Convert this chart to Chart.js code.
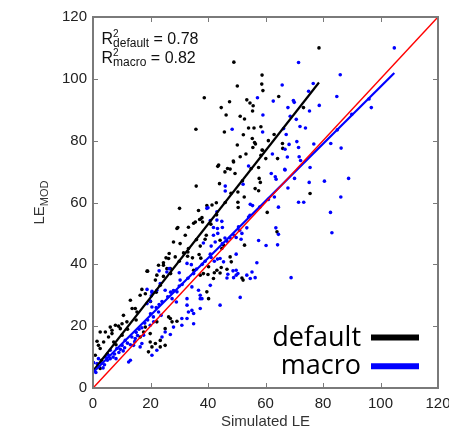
<!DOCTYPE html>
<html lang="en">
<head>
  <meta charset="UTF-8">
  <title>LE MOD vs Simulated LE</title>
  <script src="https://cdn.jsdelivr.net/npm/chart.js"></script>
  <style>
    html, body { margin: 0; padding: 0; background: #ffffff; }
    #wrap { width: 449px; height: 433px; }
  </style>
</head>
<body>
  <div id="wrap"><canvas id="scatterChart"></canvas></div>
  <script>
    // scatter values
    const defaultPts = [
      [78.6,110],[49,105.4],[58.8,101.2],[50.2,97.7],[58.7,98.3],[59.1,96.2],[38.7,93.9],[47.5,92.6],
      [53.5,93.2],[54.6,92.2],[55.7,91.3],[44.6,90.7],[55.5,89.6],[46.3,88.3],[51.2,87.9],[52.7,87],
      [35.8,83.7],[45.7,82.8],[54.1,84.1],[56,84.1],[58.4,84.5],[52.3,81.9],[55.4,80.7],[56.2,79.4],
      [56.5,78.9],[50.2,78.6],[55.6,77.8],[58.8,77],[53.2,75.7],[51.2,74.8],[48.8,73.4],[43.7,72.1],
      [47.7,70.8],[64.6,94.3],[73.2,90.7],[65.9,79.1],[66,77.5],[64.2,74.2],[59,76.9],[58.4,75.3],
      [60.1,74.2],[57.8,67.8],[58.2,66.5],[56.4,64.5],[57.6,63.8],[50.4,63.4],[52.6,61.8],[50.4,60.1],
      [50.5,58.4],[57.6,71.3],[52.7,46.2],[51.8,35.6],[52.2,34.9],[64,50.5],[60.6,56.8],[75.5,62.9],
      [45.9,69.9],[46.8,71],[49.4,69.4],[48.9,73.1],[43.4,71.7],[35.9,65.3],[44,66.1],[30.1,58.1],
      [36.7,57.4],[37.9,55.1],[39.6,59],[41.4,59.2],[42.9,59.9],[37.1,54.5],[38.1,53.7],[29.5,51.9],
      [33.2,52],[35,53.3],[39.4,49.4],[39,48.1],[37.3,45.9],[44.2,47.8],[45.4,46.2],[26.5,43.5],
      [31.5,43.7],[32.9,42.6],[36.9,43.2],[37.5,42],[34.6,42.1],[25.4,42.1],[28.6,42.4],[47.7,42.4],
      [48.1,40.8],[22.8,39.7],[24.5,40.5],[25.7,38.6],[19,37.8],[24.5,36.1],[40,36.7],[42.2,37.3],
      [44.2,37.2],[44.6,39],[46.6,38.4],[40.2,39.2],[2.5,18.1],[1.4,15.1],[1.9,13.8],[6,19.7],
      [6.6,18.7],[8.9,20],[10.1,20.8],[18.8,37.8],[29.2,51.6],[32.1,49.4],[30.3,46.7],[28,47.2],
      [33.2,45.1],[35.6,53.7],[37.3,54.6],[26.3,41.9],[26.9,38.6],[24.5,39.7],[22.2,36.5],[23.4,33.2],
      [37.3,36.5],[38.4,37],[35,38.1],[39.6,31.1],[41.9,35.4],[43.1,38.1],[40.2,28.9],[44.8,45.1],
      [21.7,34.9],[17,31.9],[18.2,30.5],[16.4,30],[13,28.4],[13.6,25.7],[14.7,25.7],[15.3,24.6],
      [26.3,23],[26.9,22.5],[27.5,21.4],[29.2,21.6],[22.2,21.4],[25.1,19.2],[19.9,17.6],[19.9,14.9],
      [21.7,14.4],[23.4,15.4],[19.3,11.7],[20.5,13.3],[23.4,13.3],[25.1,13.8],[5.4,16.5],[6.6,17.6],
      [7.2,14.9],[3.7,14.9],[9.5,19.2],[10.1,17.1],[7.8,20.3],[4.3,18.1],[11.8,21.4],[10.6,23.5],
      [2.5,12.8],[0.8,10.6],[2.5,6.3],[16.4,16.5],[17.6,18.1],[18.2,19.7],[3,9],[5,11],[8,14],
      [12,19],[15,22],[20,28],[22,31],[27,37],[30,41],[33,44],[36,48],[41,53],[43,56],[46,60],
      [48,63],[52,67],[55,71],[61,80],[63,82]
    ];
    const macroPts = [
      [104.8,110],[71.5,105.3],[86,101.3],[65.8,98],[76.6,98.5],[75,96],[62.7,92.8],[69.7,93],
      [70,92.4],[84.8,94.3],[67.8,90.7],[75.3,89.6],[78.7,91.4],[68.6,87.9],[70.7,86.9],[72,84.6],
      [73.9,84.1],[96.8,90.7],[66.3,83.9],[67.2,82],[70.9,79.7],[68.2,78.8],[71.5,77.8],[76.8,78.9],
      [82.7,79.1],[86.3,77.6],[66.8,77.2],[62.4,75.7],[67.6,74.7],[71.7,74.8],[72.2,73.6],[75.5,71.3],
      [66.7,70.7],[57.2,93.9],[59.1,88.3],[48.4,83.7],[59,82.8],[54.1,71.8],[62,69.4],[63.4,68.3],
      [63.7,67.5],[66.8,70.5],[70.1,67.8],[75.2,66.5],[80.5,66.9],[88.9,67.8],[52.2,65.9],[67.8,64.7],
      [63.1,61.8],[71.5,60.1],[73.3,60.1],[86.2,61.8],[54.7,59.4],[55.5,59],[64.5,58.5],[82.6,56.8],
      [54.6,55.9],[54.1,55.3],[53.5,51.8],[51.8,50],[63.6,51.8],[64.5,49.7],[83.1,50.2],[49.8,48.7],
      [51.5,48.1],[57.6,47.7],[60.2,46.1],[64.2,46.3],[49.8,43.3],[57,40.5],[55.3,37.5],[53.5,36.5],
      [56.4,35.7],[54.7,35.4],[49.8,38.1],[49.8,36.5],[68.9,35.7],[51.2,29.3],[46,65.3],[46,63.7],
      [40,58.3],[40.8,54.2],[43.1,54.3],[44.8,53.9],[41.9,51.9],[43.3,51.6],[45,51.9],[41.9,49.4],
      [43.4,50],[42.5,47.2],[38.4,46.9],[41.1,45.9],[50.6,52.1],[51,51],[40.8,43.3],[41.1,42.2],
      [42.2,41],[43.3,41.7],[45,46.7],[45.9,48.5],[46.6,47.5],[47.7,48.5],[49.1,49.4],[23,37.9],
      [26.5,38.6],[30,37.3],[32.7,40.3],[34.2,39.9],[46.9,36.8],[48.7,37.9],[50.4,37],[48.9,35.7],
      [46.6,35.6],[39.6,58.1],[43.1,57],[25.7,37.5],[23.4,33.8],[22.2,31.6],[20.5,30.9],[19.9,28.1],
      [30.3,34.9],[34.4,32.7],[29.2,31.1],[32.7,28.9],[30.9,22.5],[35,20.8],[33.2,24.6],[37.3,30],
      [37.9,28.9],[40.8,33.2],[44.2,26.8],[37.3,25.7],[44.2,41.9],[45.4,40.8],[18.8,31.9],[20.5,31.3],
      [20.3,29.8],[18.8,27.3],[20.5,26.2],[22.8,24.6],[23.7,23.5],[25.1,31.6],[27.5,28.9],[29,27.8],
      [32.7,26.8],[34.4,25.1],[35,24.1],[36.7,31.6],[37.3,28.9],[32.7,22.5],[30.9,20.3],[28,19.7],
      [24,16.5],[25.1,18.1],[26.9,17.3],[17,14.4],[16.4,13.3],[17.6,17.1],[20.5,10.6],[22.2,12.2],
      [12.4,8.4],[13,9],[1.9,9.5],[1.4,7.9],[0.2,8.2],[4.3,10],[5.4,10.6],[6,12.2],[8.3,12.8],
      [10.1,13.8],[11.2,15.4],[14.1,13.8],[14.7,16],[19.9,20.3],[21.1,21.4],[0.5,6],[1,5],[2,7],
      [3,8],[3.5,6.5],[4,7.5],[5,9],[6,9.5],[7,10],[7.5,11],[8,9.5],[9,11.5],[9.5,12.5],[10.5,12],
      [11,13],[12,14.5],[13,14],[13.5,16.5],[14.5,15],[15,18],[15.5,17],[16,19],[17,19.5],[18,21],
      [19,22],[20,24],[21,23],[22,26],[23,27],[24,28],[26,29.5],[27,31],[28,31.5],[30,33],[31,33.5],
      [33,35.5],[35,37],[36,38.5],[38,40],[39,41],[58,58.5],[61,61],[85,83.5],[90,88.5],[96,93.5]
    ];

    // fitted lines and 1:1 line, as end points
    const defaultFit = [[0, 5.5], [78.6, 98.8]];
    const macroFit = [[0, 5.0], [104.8, 101.9]];
    const oneToOne = [[0, 0], [120, 120]];

    const tickValues = [0, 20, 40, 60, 80, 100, 120];
    const r2Labels = [['default', '0.78'], ['macro', '0.82']];
    const legendNames = ['default', 'macro'];
    const legendColors = ['#000000', '#0000ff'];

    const toXY = arr => arr.map(p => ({ x: p[0], y: p[1] }));

    const fixArea = {
      y: function (scale) {
        scale.width = 93;
        scale.paddingTop = 0; scale.paddingBottom = 0;
        scale.paddingLeft = 0; scale.paddingRight = 0;
      },
      x: function (scale) {
        scale.height = 45;
        scale.paddingTop = 0; scale.paddingBottom = 0;
        scale.paddingLeft = 0; scale.paddingRight = 0;
      }
    };

    // frame, inner ticks, axis titles, R2 text and the legend
    const decorations = {
      id: 'decorations',
      afterDatasetsDraw(chart) {
        const ctx = chart.ctx;
        const a = chart.chartArea;
        const xs = chart.scales.x, ys = chart.scales.y;
        ctx.save();
        ctx.strokeStyle = '#7a7a7a';
        ctx.lineWidth = 2;
        ctx.strokeRect(a.left, a.top, a.right - a.left, a.bottom - a.top);
        ctx.lineWidth = 1;
        tickValues.forEach(v => {
          const px = Math.round(xs.getPixelForValue(v)) + 0.5;
          const py = Math.round(ys.getPixelForValue(v)) + 0.5;
          ctx.beginPath();
          ctx.moveTo(px, a.bottom); ctx.lineTo(px, a.bottom - 5);
          ctx.moveTo(px, a.top); ctx.lineTo(px, a.top + 5);
          ctx.moveTo(a.left, py); ctx.lineTo(a.left + 5, py);
          ctx.moveTo(a.right, py); ctx.lineTo(a.right - 5, py);
          ctx.stroke();
        });

        // x title
        ctx.fillStyle = '#333333';
        ctx.font = '15px "Liberation Sans", Arial, sans-serif';
        ctx.textAlign = 'center';
        ctx.textBaseline = 'middle';
        ctx.fillText('Simulated LE', (a.left + a.right) / 2, 422);

        // y title LE with MOD subscript
        ctx.save();
        ctx.translate(44, (a.top + a.bottom) / 2);
        ctx.rotate(-Math.PI / 2);
        ctx.textAlign = 'left';
        ctx.textBaseline = 'alphabetic';
        ctx.font = '15px "Liberation Sans", Arial, sans-serif';
        const leW = ctx.measureText('LE').width;
        ctx.font = '11px "Liberation Sans", Arial, sans-serif';
        const modW = ctx.measureText('MOD').width;
        const start = -(leW + modW) / 2;
        ctx.font = '15px "Liberation Sans", Arial, sans-serif';
        ctx.fillText('LE', start, 0);
        ctx.font = '11px "Liberation Sans", Arial, sans-serif';
        ctx.fillText('MOD', start + leW, 4);
        ctx.restore();

        // R2 annotation
        ctx.fillStyle = '#111111';
        ctx.textAlign = 'left';
        ctx.textBaseline = 'alphabetic';
        r2Labels.forEach((r, i) => {
          const base = 43.5 + i * 19.8;
          let x = 101.5;
          ctx.font = '16px "Liberation Sans", Arial, sans-serif';
          ctx.fillText('R', x, base);
          x += ctx.measureText('R').width;
          ctx.font = '10px "Liberation Sans", Arial, sans-serif';
          ctx.fillText('2', x, base - 7);
          ctx.font = '12px "Liberation Sans", Arial, sans-serif';
          ctx.fillText(r[0], x, base + 3);
          x += ctx.measureText(r[0]).width;
          ctx.font = '16px "Liberation Sans", Arial, sans-serif';
          ctx.fillText(' = ' + r[1], x, base);
        });

        // legend
        ctx.font = '27px "Open Sans", sans-serif';
        ctx.textAlign = 'right';
        ctx.fillStyle = '#000000';
        legendNames.forEach((n, i) => {
          const base = 345.5 + i * 28.7;
          ctx.fillText(n, 361, base);
          ctx.strokeStyle = legendColors[i];
          ctx.lineWidth = 6;
          ctx.beginPath();
          ctx.moveTo(371, base - 8);
          ctx.lineTo(419, base - 8);
          ctx.stroke();
        });
        ctx.restore();
      }
    };

    const ctx = document.getElementById('scatterChart').getContext('2d');
    const myChart = new Chart(ctx, {
      type: 'scatter',
      data: {
        datasets: [
          {
            label: 'default',
            data: toXY(defaultPts),
            backgroundColor: '#000000',
            borderWidth: 0,
            pointRadius: 1.8,
            order: 5
          },
          {
            label: 'macro',
            data: toXY(macroPts),
            backgroundColor: '#0000ff',
            borderWidth: 0,
            pointRadius: 1.8,
            order: 4
          },
          {
            type: 'line',
            label: 'default fit',
            data: toXY(defaultFit),
            borderColor: '#000000',
            borderWidth: 2.2,
            pointRadius: 0,
            order: 3
          },
          {
            type: 'line',
            label: 'macro fit',
            data: toXY(macroFit),
            borderColor: '#0000ff',
            borderWidth: 2.2,
            pointRadius: 0,
            order: 2
          },
          {
            type: 'line',
            label: '1:1',
            data: toXY(oneToOne),
            borderColor: '#ff0000',
            borderWidth: 1.5,
            pointRadius: 0,
            order: 1
          }
        ]
      },
      options: {
        responsive: true,
        maintainAspectRatio: false,
        animation: false,
        layout: { padding: { top: 17, right: 11, left: 0, bottom: 0 } },
        plugins: {
          legend: { display: false },
          tooltip: { enabled: false }
        },
        scales: {
          x: {
            type: 'linear',
            min: 0,
            max: 120,
            grid: { display: false, drawTicks: false },
            border: { display: false },
            afterFit: fixArea.x,
            afterBuildTicks: s => { s.ticks = tickValues.map(v => ({ value: v })); },
            ticks: {
              padding: 7,
              maxRotation: 0,
              autoSkip: false,
              color: '#222222',
              font: { family: '"Liberation Sans", Arial, sans-serif', size: 15 }
            }
          },
          y: {
            type: 'linear',
            min: 0,
            max: 120,
            grid: { display: false, drawTicks: false },
            border: { display: false },
            afterFit: fixArea.y,
            afterBuildTicks: s => { s.ticks = tickValues.map(v => ({ value: v })); },
            ticks: {
              padding: 6,
              autoSkip: false,
              color: '#222222',
              font: { family: '"Liberation Sans", Arial, sans-serif', size: 15 }
            }
          }
        }
      },
      plugins: [decorations]
    });
  </script>
</body>
</html>
